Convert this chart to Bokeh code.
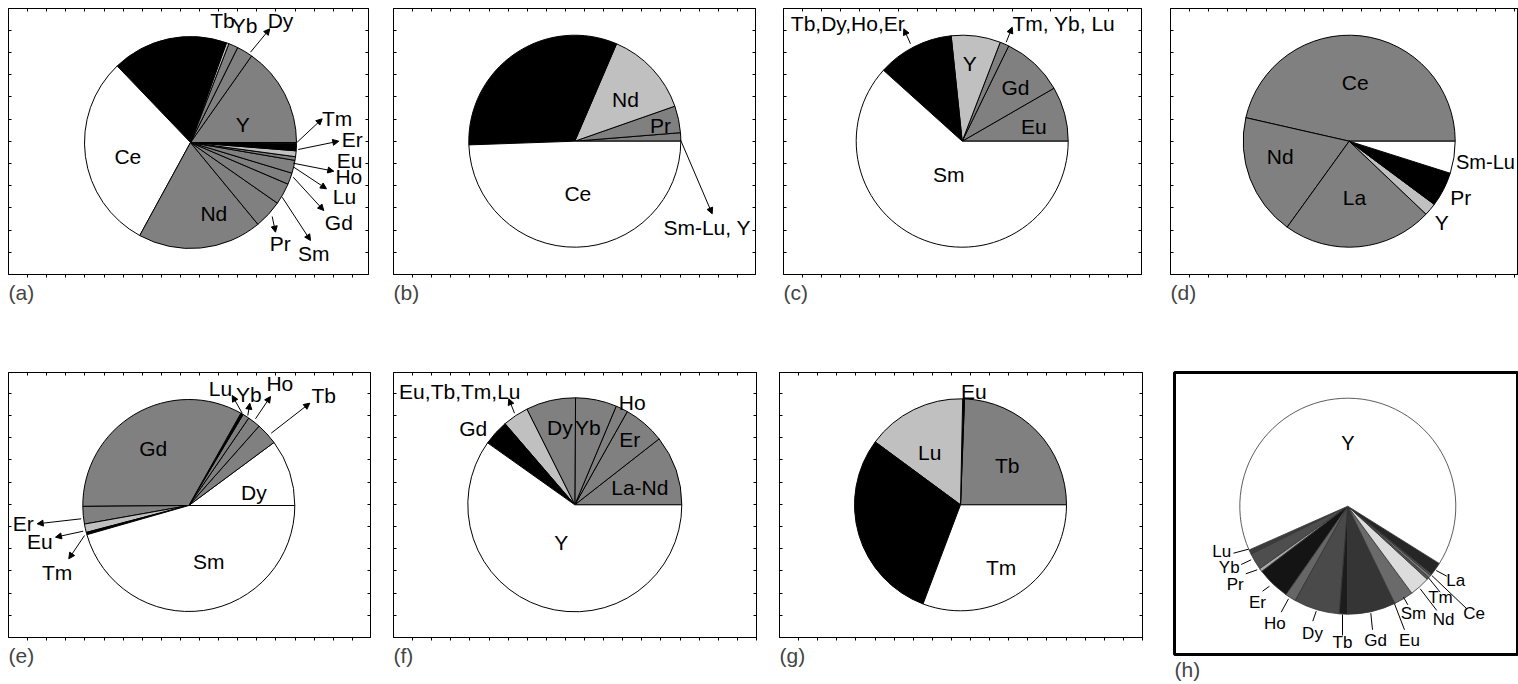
import numpy as np
from bokeh.plotting import figure
from bokeh.layouts import row, column
from bokeh.models import (Range1d, LinearAxis, FixedTicker, Arrow, NormalHead,
                          Title, ColumnDataSource)
from bokeh.core.properties import value
from bokeh.embed import file_html
from bokeh.resources import INLINE

# ---------------- data: shares (%) of each pie, counter-clockwise ----------------
a_names = ["Y", "Dy", "Yb", "Tb", "La", "Ce", "Nd", "Pr", "Sm", "Gd", "Lu", "Ho", "Eu", "Er", "Tm"]
a_vals = [15.22, 2.44, 1.44, 0.39, 17.67, 29.89, 18.92, 4.33, 3.28, 1.75, 1.97, 0.56, 0.89, 1.14, 0.11]

b_names = ["Sm-Lu, Y", "Pr", "Nd", "La", "Ce"]
b_vals = [1.28, 4.08, 13.19, 32.00, 49.44]

c_names = ["Eu", "Gd", "Tm, Yb, Lu", "Y", "Tb,Dy,Ho,Er", "Sm"]
c_vals = [8.33, 9.44, 1.39, 7.50, 11.67, 61.67]

d_names = ["Ce", "Nd", "La", "Y", "Pr", "Sm-Lu"]
d_vals = [46.44, 18.61, 22.86, 1.92, 5.28, 4.89]

e_names = ["Dy", "Tb", "Ho", "Yb", "Lu", "Gd", "Er", "Eu", "Tm", "Sm"]
e_vals = [10.14, 3.33, 1.97, 1.00, 0.39, 33.31, 2.67, 1.28, 0.36, 45.56]

f_names = ["La-Nd", "Er", "Ho", "Yb", "Dy", "Eu,Tb,Tm,Lu", "Gd", "Y"]
f_vals = [10.56, 6.28, 1.83, 6.22, 7.50, 3.92, 3.86, 59.83]

g_names = ["Tb", "Eu", "Lu", "others", "Tm"]
g_vals = [24.39, 0.28, 15.22, 29.36, 30.75]

h_names = ["Lu", "Yb", "Pr", "Er", "Ho", "Dy", "Tb", "Gd", "Eu", "Sm", "Nd", "Tm", "Ce", "La", "Y"]
h_vals = [0.69, 2.50, 0.50, 4.97, 1.61, 6.83, 1.25, 7.19, 2.92, 3.06, 0.36, 0.39, 0.25, 1.94, 65.53]

# ---------------- styles ----------------
G, L, K, W = "#808080", "#c0c0c0", "#000000", "#ffffff"
a_cols = [G, G, G, L, K, W, G, G, G, G, G, G, L, K, G]
b_cols = [G, G, L, K, W]
c_cols = [G, G, G, L, K, W]
d_cols = [G, G, G, L, K, W]
e_cols = [W, G, G, G, K, G, G, L, K, W]
f_cols = [G, G, G, G, G, L, K, W]
g_cols = [G, K, L, K, W]
h_cols = ["#3c3c3c", "#4e4e4e", "#a8a8a8", "#141414", "#666666", "#4a4a4a", "#1c1c1c",
          "#353535", "#6a6a6a", "#dcdcdc", "#555555", "#7a7a7a", "#5a5a5a", "#262626", "#ffffff"]

FONT = "Liberation Sans"
FS = "21px"


def panel(fl, ft, fw, fh, bl, br, bt, bb, letter, sides=("below", "above", "left", "right"),
          outline_w=1):
    p = figure(frame_width=fw, frame_height=fh, x_range=Range1d(0, fw), y_range=Range1d(0, fh),
               output_backend="svg", toolbar_location=None,
               x_axis_location=None, y_axis_location=None,
               min_border_left=bl, min_border_right=br, min_border_top=bt, min_border_bottom=bb)
    p.grid.visible = False
    p.outline_line_color = "black"
    p.outline_line_width = outline_w
    p.background_fill_color = "white"
    p.border_fill_color = "white"
    xticks = [float(t) for t in np.arange(19.1, fw, 19.1)]
    yticks = [float(t) for t in np.arange(22.2, fh, 22.2)]
    spec = {"below": (xticks, 0, 3), "above": (xticks, 3, 0),
            "left": (yticks, 3, 0), "right": (yticks, 3, 0)}
    for s in sides:
        tks, tin, tout = spec[s]
        ax = LinearAxis(ticker=FixedTicker(ticks=tks, minor_ticks=[]),
                        major_tick_in=tin, major_tick_out=tout,
                        minor_tick_in=0, minor_tick_out=0,
                        major_label_overrides={t: "" for t in tks},
                        major_label_text_font_size="1px",
                        major_label_standoff=0, axis_line_color="black",
                        major_tick_line_color="black")
        p.add_layout(ax, s)
    p.add_layout(Title(text=letter, align="left", text_font_size=FS, text_font_style="normal",
                       text_font=FONT, standoff=2), "below")

    def geo(X, Y):
        return X - fl, ft + fh - Y
    return p, geo


def pie(p, geo, cx, cy, r, vals, cols, names, start_deg=0.0, lc="black", lw=1.0):
    v = np.asarray(vals, dtype=float)
    edges = np.radians(start_deg) + np.concatenate([[0.0], np.cumsum(v / v.sum() * 2 * np.pi)])
    x, y = geo(cx, cy)
    src = ColumnDataSource(dict(x=[x] * len(v), y=[y] * len(v), s=edges[:-1], e=edges[1:],
                                c=cols, name=names))
    p.wedge(x="x", y="y", radius=r, radius_units="screen", start_angle="s", end_angle="e",
            fill_color="c", line_color=lc, line_width=lw, source=src)


def labels(p, geo, items, size=FS, align="center"):
    xs, ys, ts = [], [], []
    for t, X, Y in items:
        x, y = geo(X, Y)
        xs.append(x); ys.append(y); ts.append(t)
    p.text(x=xs, y=ys, text=ts, text_font=value(FONT), text_font_size=size,
           text_align=align, text_baseline="middle", text_color="black")


def arrows(p, geo, items):
    for X0, Y0, X1, Y1 in items:
        x0, y0 = geo(X0, Y0)
        x1, y1 = geo(X1, Y1)
        p.add_layout(Arrow(end=NormalHead(size=6, fill_color="black", line_color="black",
                                          line_width=1),
                           x_start=x0, y_start=y0, x_end=x1, y_end=y1, line_width=1,
                           line_color="black"))


def leaders(p, geo, items):
    x0s, y0s, x1s, y1s = [], [], [], []
    for X0, Y0, X1, Y1 in items:
        a, b = geo(X0, Y0)
        c, d = geo(X1, Y1)
        x0s.append(a); y0s.append(b); x1s.append(c); y1s.append(d)
    p.segment(x0=x0s, y0=y0s, x1=x1s, y1=y1s, line_color="black", line_width=1)


# ---------------- panel (a) ----------------
pa, ga = panel(8, 8, 360, 266, 8, 12, 8, 58, "(a)")
pie(pa, ga, 190, 142, 106, a_vals, a_cols, a_names)
labels(pa, ga, [("Ce", 127.3, 156), ("Y", 242.3, 124), ("Nd", 213.3, 213.3),
                ("Tb", 222, 20), ("Yb", 244, 25), ("Dy", 280, 20),
                ("Tm", 336.7, 118.3), ("Er", 351.7, 139.3), ("Eu", 349, 160),
                ("Ho", 348.3, 176), ("Lu", 344, 196), ("Gd", 338.3, 221.7),
                ("Sm", 313.3, 253.3), ("Pr", 279.7, 242.7)])
arrows(pa, ga, [(250, 51.7, 269.3, 28.3), (296.7, 141.7, 321.7, 118.3),
                (297.7, 149, 338.3, 140.7), (292.7, 162.7, 333.3, 170.7),
                (293.3, 166.7, 326, 188.3), (292.7, 176.7, 323.3, 210),
                (281.7, 196.7, 310, 240), (271.7, 216, 275, 231.7)])

# ---------------- panel (b) ----------------
pb, gb = panel(393, 8, 362, 266, 13, 15, 8, 58, "(b)")
pie(pb, gb, 574.3, 140.7, 106, b_vals, b_cols, b_names)
labels(pb, gb, [("Nd", 625, 99.3), ("Pr", 660, 125), ("Ce", 577.3, 192.7),
                ("Sm-Lu, Y", 706.7, 226.7)])
arrows(pb, gb, [(680, 139.3, 711.7, 213.3)])

# ---------------- panel (c) ----------------
pc, gc = panel(783, 8, 358, 266, 13, 14, 8, 58, "(c)")
pie(pc, gc, 961.7, 140.7, 106, c_vals, c_cols, c_names)
labels(pc, gc, [("Y", 969.3, 62.7), ("Gd", 1015, 87.3), ("Eu", 1033.3, 126),
                ("Sm", 948.3, 174), ("Tb,Dy,Ho,Er", 847.3, 23.3),
                ("Tm, Yb, Lu", 1063.3, 22.7)])
arrows(pc, gc, [(910, 43.3, 903.3, 28.3), (1005.7, 41.7, 1011.7, 26.7)])

# ---------------- panel (d) ----------------
pd_, gd = panel(1170, 8, 348, 266, 15, 0, 8, 58, "(d)", sides=("below", "above", "left"))
pie(pd_, gd, 1348.7, 140.7, 106, d_vals, d_cols, d_names)
labels(pd_, gd, [("Ce", 1354.7, 81.7), ("Nd", 1279.7, 156), ("La", 1354, 197.3),
                 ("Y", 1441.3, 221.7)])
labels(pd_, gd, [("Sm-Lu", 1455.5, 161.7)], size="20px", align="left")
labels(pd_, gd, [("Pr", 1449.7, 197.3)], align="left")

# ---------------- panel (e) ----------------
pe, ge = panel(8, 372, 362, 265, 8, 10, 40, 37, "(e)")
pie(pe, ge, 188.3, 505, 106, e_vals, e_cols, e_names)
labels(pe, ge, [("Gd", 152.7, 448.3), ("Dy", 253.3, 491.7), ("Sm", 208.3, 560.7),
                ("Lu", 220, 388.3), ("Yb", 248.3, 394), ("Ho", 279.3, 383.3),
                ("Tb", 323.3, 395), ("Er", 22.7, 522.7), ("Eu", 39.3, 540.7),
                ("Tm", 56.7, 571.7)])
arrows(pe, ge, [(241.7, 412.7, 231.7, 395), (247.3, 415, 249.3, 402.7),
                (255, 418.3, 270, 396), (270.7, 432.7, 309.3, 402.7),
                (80.7, 518.3, 36.7, 523.3), (82.7, 530.7, 55, 536.7),
                (84, 535, 68.3, 558.3)])

# ---------------- panel (f) ----------------
pf, gf = panel(393, 372, 363, 265, 13, 14, 40, 37, "(f)")
pie(pf, gf, 574.3, 504.3, 107, f_vals, f_cols, f_names)
labels(pf, gf, [("Dy", 559.3, 427.3), ("Yb", 587.3, 427.3), ("Ho", 631.7, 401.7),
                ("Er", 629.3, 439.3), ("La-Nd", 639.3, 486.7), ("Gd", 472.7, 428.3),
                ("Eu,Tb,Tm,Lu", 459.3, 390.7), ("Y", 560.7, 541.7)])
arrows(pf, gf, [(514, 412.7, 508.3, 398.3)])

# ---------------- panel (g) ----------------
pg, gg = panel(779, 372, 363, 265, 9, 13, 40, 37, "(g)")
pie(pg, gg, 960, 504.3, 106, g_vals, g_cols, g_names)
labels(pg, gg, [("Lu", 929.3, 451.7), ("Tb", 1006.7, 465), ("Tm", 1000.7, 567.3),
                ("Eu", 973.3, 390.7)])

# ---------------- panel (h) ----------------
ph, gh = panel(1174, 372, 344, 282, 19, 0, 40, 20, "(h)", sides=(), outline_w=3)
pie(ph, gh, 1347.3, 505.7, 108, h_vals, h_cols, h_names, start_deg=203.9,
    lc="#333333", lw=0.8)
labels(ph, gh, [("Y", 1347.3, 442.7)], size="20px")
labels(ph, gh, [("Lu", 1221.3, 550.7), ("Yb", 1228.7, 567.3), ("Pr", 1234.7, 584.3),
                ("Er", 1257, 601.7), ("Ho", 1274.3, 622.7), ("Dy", 1312, 633.3),
                ("Tb", 1342, 641.7), ("Gd", 1375, 640.3), ("Eu", 1409, 640.3),
                ("Sm", 1413, 613.3), ("Nd", 1443, 619.3), ("Tm", 1440, 596.7),
                ("Ce", 1473.7, 612.7), ("La", 1455.3, 580.3)], size="17px")
leaders(ph, gh, [(1233, 552.7, 1248, 548.7), (1240.7, 564, 1250.7, 559.3),
                 (1245.3, 573.3, 1256.7, 569.3), (1262, 590.7, 1269, 585.7),
                 (1280.7, 611.7, 1288, 598.3), (1312.3, 620.7, 1315.7, 610.7),
                 (1342, 635, 1342, 614), (1372, 629.3, 1370.3, 612.7),
                 (1404, 629.3, 1394, 603.3), (1407.3, 604.3, 1403, 596.7),
                 (1436.3, 610, 1419.7, 588.3), (1439.7, 591.7, 1428, 577.3),
                 (1466.3, 608.3, 1431.3, 575), (1446.3, 575.7, 1435.7, 570)])

layout = column(row(pa, pb, pc, pd_), row(pe, pf, pg, ph))
open("out.html", "w").write(file_html(layout, INLINE))
